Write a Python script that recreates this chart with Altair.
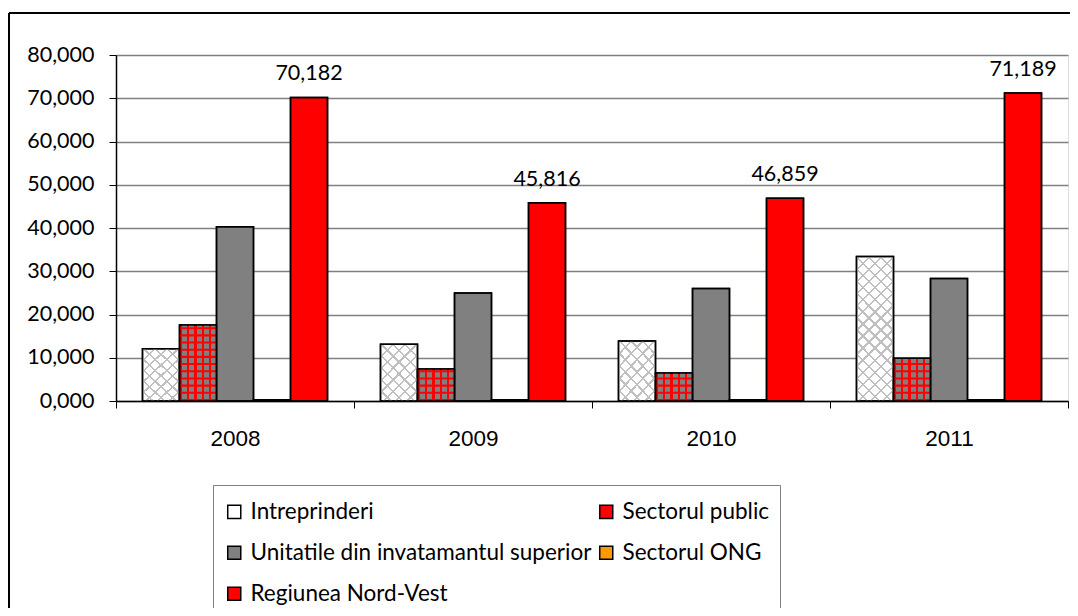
import altair as alt
import pandas as pd

years = ["2008", "2009", "2010", "2011"]
series = ["Intreprinderi", "Sectorul public", "Unitatile din invatamantul superior",
          "Sectorul ONG", "Regiunea Nord-Vest"]
colors = ["#ffffff", "#ff0000", "#808080", "#ff9900", "#ff0000"]

intreprinderi = [12.1, 13.1, 13.9, 33.4]
sectorul_public = [17.6, 7.4, 6.5, 9.9]
unitatile = [40.3, 25.0, 26.0, 28.3]
sectorul_ong = [0.3, 0.3, 0.3, 0.3]
regiunea = [70.182, 45.816, 46.859, 71.189]
y_ticks = [0, 10, 20, 30, 40, 50, 60, 70, 80]

values_by_series = [intreprinderi, sectorul_public, unitatile, sectorul_ong, regiunea]
rows = []
for s, vals in zip(series, values_by_series):
    for yr, v in zip(years, vals):
        rows.append({"year": yr, "series": s, "value": v})
df = pd.DataFrame(rows)

# horizontal red lines of the "Sectorul public" grid pattern, derived from its values
step, thick = 1.66, 0.48
prow = []
for yr, v in zip(years, sectorul_public):
    k = 0
    while k * step < v:
        prow.append({"year": yr, "series": "Sectorul public",
                     "y0": k * step, "y1": min(k * step + thick, v)})
        k += 1
pdf = pd.DataFrame(prow)

xs = alt.X("year:N", scale=alt.Scale(domain=years, paddingInner=0, paddingOuter=0),
           axis=alt.Axis(title=None, labelAngle=0, tickBand="extent", tickSize=7,
                         tickColor="black", domainColor="black", domainWidth=1.5,
                         labelFont="Liberation Sans", labelFontSize=22.5, labelColor="black",
                         labelPadding=19, grid=False))
xo = alt.XOffset("series:N", scale=alt.Scale(domain=series, paddingInner=0, paddingOuter=0.716))
ys = alt.Y("value:Q", scale=alt.Scale(domain=[0, 80], nice=False),
           axis=alt.Axis(title=None, values=y_ticks,
                         labelExpr="replace(format(datum.value, '.3f'), '.', ',')",
                         labelFont="Lato", labelFontSize=21.5, labelColor="black",
                         labelPadding=15, tickSize=7, tickColor="black",
                         domainColor="black", domainWidth=1.5,
                         gridColor="#808080", gridWidth=1.3))

base = alt.Chart(df).mark_bar(stroke="black", strokeWidth=1.5).encode(
    x=xs, xOffset=xo, y=ys,
    color=alt.Color("series:N", scale=alt.Scale(domain=series, range=colors),
                    legend=alt.Legend(title=" ", titleFontSize=1, titlePadding=4.5,
                                      orient="none", legendX=97, legendY=430,
                                      columns=2, direction="horizontal",
                                      symbolType="square", symbolSize=170,
                                      symbolStrokeColor="black", symbolStrokeWidth=1.5,
                                      labelFont="Lato", labelFontSize=22.5, labelColor="black",
                                      labelLimit=400, rowPadding=18, columnPadding=3,
                                      padding=10, strokeColor="#808080",
                                      labelOffset=5)),
)


def stripes(n, frac, col):
    st = []
    for i in range(n):
        a = i / n
        b = a + frac / n
        st += [{"offset": a, "color": col}, {"offset": b, "color": col},
               {"offset": b, "color": "transparent"},
               {"offset": (i + 1) / n, "color": "transparent"}]
    return st


def diag(a, b, n, flip):
    if flip:
        return {"gradient": "linear", "x1": 1, "y1": 0, "x2": 1 - a, "y2": b,
                "stops": stripes(n, 0.2, "#c0c0c0")}
    return {"gradient": "linear", "x1": 0, "y1": 0, "x2": a, "y2": b,
            "stops": stripes(n, 0.2, "#c0c0c0")}


def hatch(flip):
    return alt.Chart(df).transform_filter(alt.datum.series == "Intreprinderi").mark_bar().encode(
        x=xs, xOffset=xo, y=ys,
        fill=alt.condition(alt.datum.year == "2011",
                           alt.value(diag(0.303, 1.179, 15, flip)),
                           alt.value(diag(0.764, 1.156, 8, flip))))


hatch_a = hatch(False)
hatch_b = hatch(True)

# gray columns over a red base leave red vertical lines
vstripes = alt.Chart(df).transform_filter(alt.datum.series == "Sectorul public").mark_bar(
    fill=alt.Gradient(gradient="linear", x1=0, y1=0, x2=1, y2=0,
                      stops=[s for i in range(5) for s in (
                          {"offset": i / 5, "color": "transparent"},
                          {"offset": i / 5 + 0.06, "color": "transparent"},
                          {"offset": i / 5 + 0.06, "color": "#808080"},
                          {"offset": (i + 1) / 5, "color": "#808080"})])
).encode(x=xs, xOffset=xo, y=ys)

hstripes = alt.Chart(pdf).mark_bar(color="#ff0000").encode(
    x=xs, xOffset=xo, y=alt.Y("y0:Q", scale=alt.Scale(domain=[0, 80], nice=False)), y2="y1:Q")

outline = alt.Chart(df).mark_bar(fillOpacity=0, stroke="black", strokeWidth=1.5).encode(
    x=xs, xOffset=xo, y=ys)

labels = alt.Chart(df).transform_filter(alt.datum.series == "Regiunea Nord-Vest").transform_calculate(
    lbl="replace(format(datum.value, '.3f'), '.', ',')"
).mark_text(font="Lato", fontSize=21.5, color="black", baseline="bottom", dy=-12).encode(
    x=xs, xOffset=xo, y=ys, text="lbl:N")

frame_df = pd.DataFrame({"a": [0]})
frame_left = alt.Chart(frame_df).mark_rule(color="black", strokeWidth=2).encode(
    x=alt.value(-107), y=alt.value(-42), y2=alt.value(600))
frame_top = alt.Chart(frame_df).mark_rule(color="black", strokeWidth=2).encode(
    x=alt.value(-107), x2=alt.value(1000), y=alt.value(-42))

chart = alt.layer(base, hatch_a, hatch_b, vstripes, hstripes, outline, labels,
                  frame_left, frame_top).properties(
    width=952, height=346,
    autosize=alt.AutoSizeParams(type="none"),
    padding={"left": 108, "top": 47, "right": 2, "bottom": 207},
).configure_view(stroke="#808080", strokeWidth=1.5).configure(background="white")

chart.save("out.html", embed_options={"renderer": "svg", "actions": False})
